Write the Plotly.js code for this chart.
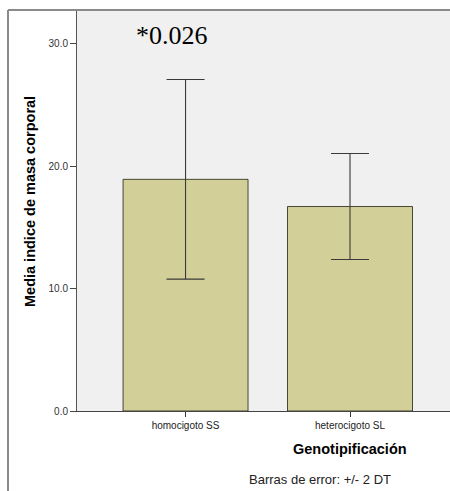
<!DOCTYPE html>
<html>
<head>
<meta charset="utf-8">
<script src="https://cdn.plot.ly/plotly-3.0.1.min.js"></script>
<style>html,body{margin:0;padding:0;background:#fff;}#chart{width:450px;height:491px;}</style>
</head>
<body>
<div id="chart"></div>
<script>
var categories = ["homocigoto SS", "heterocigoto SL"];
var means = [18.92, 16.70];
var errors2SD = [8.15, 4.33];
var yTickValues = [0, 10, 20, 30];
var yTickLabels = ["0.0", "10.0", "20.0", "30.0"];
var pValueText = "*0.026";
var yTitle = "Media indice de masa corporal";
var xTitle = "Genotipificación";
var errorNote = "Barras de error: +/- 2 DT";

var trace = {
  type: "bar",
  x: [0, 1],
  y: means,
  width: 0.76,
  marker: {color: "#d3cf99", line: {color: "rgba(20,20,10,0.75)", width: 1}},
  error_y: {type: "data", array: errors2SD, visible: true, color: "#3a3a3a", thickness: 1.1, width: 19},
  hoverinfo: "skip"
};

var sans = "Liberation Sans, Arial, sans-serif";

var layout = {
  width: 450, height: 491,
  margin: {l: 77, r: 0, t: 10, b: 80},
  paper_bgcolor: "#ffffff",
  plot_bgcolor: "#f0f0f0",
  showlegend: false,
  bargap: 0,
  xaxis: {
    range: [-0.66, 1.608],
    tickvals: [0, 1], ticktext: categories,
    ticks: "outside", ticklen: 5, tickcolor: "#333", tickwidth: 1,
    tickfont: {family: sans, size: 10, color: "#222"},
    showline: true, linecolor: "#444", linewidth: 1,
    showgrid: false, zeroline: false, fixedrange: true
  },
  yaxis: {
    range: [0, 32.75],
    tickvals: yTickValues, ticktext: yTickLabels,
    ticks: "outside", ticklen: 6, tickcolor: "#444", tickwidth: 1,
    tickfont: {family: sans, size: 10, color: "#333"},
    showline: true, linecolor: "#555", linewidth: 1,
    showgrid: false, zeroline: false, fixedrange: true
  },
  annotations: [
    {text: yTitle, xref: "paper", yref: "paper", x: (30 - 77) / 373, y: (411 - 202) / 401,
     textangle: -90, xanchor: "center", yanchor: "middle", showarrow: false,
     font: {family: sans, size: 14.5, color: "#000", weight: "bold"}},
    {text: pValueText, xref: "paper", yref: "paper", x: (172 - 77) / 373, y: (411 - 36) / 401,
     xanchor: "center", yanchor: "middle", showarrow: false,
     font: {family: "Liberation Serif, Times New Roman, serif", size: 26, color: "#000"}},
    {text: xTitle, xref: "x", yref: "paper", x: 1, y: (411 - 449) / 401,
     xanchor: "center", yanchor: "middle", showarrow: false,
     font: {family: sans, size: 14.5, color: "#000", weight: "bold"}},
    {text: errorNote, xref: "paper", yref: "paper", x: (320 - 77) / 373, y: (411 - 479) / 401,
     xanchor: "center", yanchor: "middle", showarrow: false,
     font: {family: sans, size: 13, color: "#222"}}
  ],
  shapes: [
    {type: "line", xref: "paper", yref: "paper", x0: (8 - 77) / 373, x1: 1, y0: 1, y1: 1,
     line: {color: "#8a8a8a", width: 2}},
    {type: "line", xref: "paper", yref: "paper", x0: (8 - 77) / 373, x1: (8 - 77) / 373, y0: 1, y1: (411 - 495) / 401,
     line: {color: "#8a8a8a", width: 2}}
  ]
};

Plotly.newPlot("chart", [trace], layout, {displayModeBar: false, staticPlot: true});
</script>
</body>
</html>
